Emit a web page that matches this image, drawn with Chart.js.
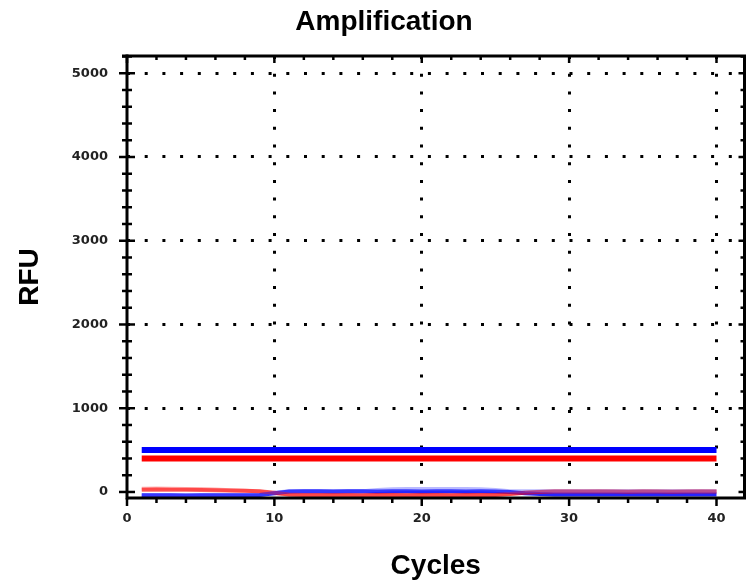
<!DOCTYPE html>
<html>
<head>
<meta charset="utf-8">
<script src="https://cdn.jsdelivr.net/npm/chart.js@4.4.1/dist/chart.umd.min.js"></script>
<style>
  body { margin: 0; background: #fff; }
  #wrap { width: 746px; height: 580px; position: relative; }
</style>
</head>
<body>
<div id="wrap"><canvas id="amp-chart"></canvas></div>
<script>
// cycle numbers on the x axis
const cycles = [1, 2, 3, 4, 5, 6, 7, 8, 9, 10, 11, 12, 13, 14, 15, 16, 17, 18, 19, 20,
                21, 22, 23, 24, 25, 26, 27, 28, 29, 30, 31, 32, 33, 34, 35, 36, 37, 38, 39, 40];

// RFU traces (all hug the baseline)
const redA = [28, 30, 28, 26, 25, 22, 18, 15, 8, -10, -30, -35, -36, -35, -36, -38, -37, -36, -38, -37,
              -36, -38, -37, -36, -35, -25, -10, 0, 5, 6, 5, 6, 5, 4, 6, 5, 4, 5, 6, 5];
const redB = [38, 40, 38, 36, 35, 30, 22, 14, 5, -15, -32, -33, -34, -33, -34, -35, -34, -33, -35, -34,
              -33, -35, -34, -33, -32, -20, -5, 3, 8, 8, 7, 8, 7, 6, 8, 7, 6, 7, 8, 7];
const blueA = [-38, -40, -40, -41, -40, -40, -39, -38, -35, -15, 5, 8, 8, 7, 8, 8, 7, 8, 8, 7,
               8, 8, 7, 8, 7, 0, -15, -25, -30, -30, -31, -30, -30, -31, -30, -30, -31, -30, -30, -30];
const blueB = [-40, -41, -40, -40, -41, -40, -40, -38, -35, -10, 8, 10, 10, 10, 10, 10, 25, 32, 35, 36,
               35, 36, 34, 33, 25, 10, 8, 8, 8, 8, 8, 8, 8, 8, 8, 8, 8, 8, 8, 8];

// the two flat lines
const levelCycles = [1, 40];
const blueLevel = [500, 500];
const redLevel = [400, 400];

// axis ranges and labelled ticks
const xRange = [0, 41.9];
const yRange = [-72, 5206];
const xMajor = [0, 10, 20, 30, 40];
const yMajor = [0, 1000, 2000, 3000, 4000, 5000];
const xMinorStep = 2;
const yMinorStep = 200;

function pts(xs, ys) {
    return xs.map((x, i) => ({ x: x, y: ys[i] }));
}

function stepTicks(lo, hi, step) {
    const out = [];
    for (let v = Math.ceil(lo / step) * step; v <= hi; v += step) out.push({ value: v });
    return out;
}

// frame, tick marks on all four sides, and the title
const frameTicks = {
    id: 'frameTicks',
    afterDraw(chart) {
        const { ctx, chartArea: a, scales: { x, y } } = chart;
        const line = (x1, y1, x2, y2) => {
            ctx.beginPath();
            ctx.moveTo(x1, y1);
            ctx.lineTo(x2, y2);
            ctx.stroke();
        };
        ctx.save();
        ctx.setLineDash([]);
        ctx.strokeStyle = '#000';
        ctx.lineWidth = 3;
        ctx.lineCap = 'butt';
        ctx.beginPath();
        ctx.moveTo(a.left - 5, a.top);
        ctx.lineTo(a.right, a.top);
        ctx.lineTo(a.right, a.bottom);
        ctx.lineTo(a.left, a.bottom);
        ctx.stroke();
        line(a.left, a.top - 1.5, a.left, a.bottom + 1.5);

        ctx.lineWidth = 2.5;
        y.ticks.forEach(t => {
            const py = y.getPixelForValue(t.value);
            const major = yMajor.includes(t.value);
            line(a.left - (major ? 8 : 5), py, a.left + (major ? 8 : 5), py);
            line(a.right - (major ? 6 : 4), py, a.right, py);
        });
        x.ticks.forEach(t => {
            const px = x.getPixelForValue(t.value);
            const major = xMajor.includes(t.value);
            line(px, a.bottom, px, a.bottom + (major ? 8 : 5));
            line(px, a.top, px, a.top + (major ? 7 : 4));
        });

        // chart title, set a little right of the canvas centre
        ctx.fillStyle = '#000';
        ctx.font = 'bold 28px "Liberation Sans", Arial, sans-serif';
        ctx.textAlign = 'center';
        ctx.textBaseline = 'middle';
        ctx.fillText('Amplification', chart.width / 2 + 11, 22);
        ctx.restore();
    }
};

function dotGrid(majors) {
    return {
        drawTicks: false,
        lineWidth: 3,
        color: ctx => (ctx.tick && ctx.tick.value !== 0 && majors.includes(ctx.tick.value)) ? '#000' : 'rgba(0,0,0,0)'
    };
}

const dotBorder = { display: false, dash: [3, 14.7], dashOffset: 0 };

const traceStyle = (color, width) => ({
    borderColor: color,
    borderWidth: width,
    pointRadius: 0,
    tension: 0,
    fill: false
});

new Chart(document.getElementById('amp-chart'), {
    type: 'line',
    data: {
        datasets: [
            Object.assign({ label: 'Blue level', data: pts(levelCycles, blueLevel) }, traceStyle('#0000ff', 6)),
            Object.assign({ label: 'Red level', data: pts(levelCycles, redLevel) }, traceStyle('#ff0000', 6)),
            Object.assign({ label: 'Blue B', data: pts(cycles, blueB) }, traceStyle('rgba(80,80,255,0.4)', 4)),
            Object.assign({ label: 'Red A', data: pts(cycles, redA) }, traceStyle('rgba(255,0,0,0.6)', 4)),
            Object.assign({ label: 'Blue A', data: pts(cycles, blueA) }, traceStyle('rgba(0,0,255,0.85)', 4)),
            Object.assign({ label: 'Red B', data: pts(cycles, redB) }, traceStyle('rgba(255,70,70,0.4)', 4))
        ]
    },
    options: {
        responsive: true,
        maintainAspectRatio: false,
        animation: false,
        layout: { padding: { top: 56, right: 1.5, left: 0, bottom: 0 } },
        plugins: {
            legend: { display: false },
            tooltip: { enabled: false },
            title: { display: false }
        },
        scales: {
            x: {
                type: 'linear',
                min: xRange[0],
                max: xRange[1],
                afterBuildTicks: s => { s.ticks = stepTicks(xRange[0], xRange[1], xMinorStep); },
                afterFit: s => { s.height = 82; },
                grid: dotGrid(xMajor),
                border: dotBorder,
                ticks: {
                    autoSkip: false,
                    maxRotation: 0,
                    padding: 13,
                    color: '#222',
                    font: { family: '"DejaVu Sans", sans-serif', size: 13, weight: 'bold' },
                    callback: v => xMajor.includes(v) ? String(v) : ''
                },
                title: {
                    display: true,
                    text: 'Cycles',
                    color: '#000',
                    font: { family: '"Liberation Sans", Arial, sans-serif', size: 28, weight: 'bold', lineHeight: 1 },
                    padding: { top: 0, bottom: 0 }
                }
            },
            y: {
                min: yRange[0],
                max: yRange[1],
                afterBuildTicks: s => { s.ticks = stepTicks(yRange[0], yRange[1], yMinorStep); },
                afterFit: s => { s.width = 127; },
                grid: dotGrid(yMajor),
                border: dotBorder,
                ticks: {
                    autoSkip: false,
                    padding: 19,
                    color: '#222',
                    font: { family: '"DejaVu Sans", sans-serif', size: 13, weight: 'bold' },
                    callback: v => yMajor.includes(v) ? String(v) : ''
                },
                title: {
                    display: true,
                    text: 'RFU',
                    color: '#000',
                    font: { family: '"Liberation Sans", Arial, sans-serif', size: 28, weight: 'bold', lineHeight: 1 },
                    padding: { top: 16, bottom: 0 }
                }
            }
        }
    },
    plugins: [frameTicks]
});
</script>
</body>
</html>
